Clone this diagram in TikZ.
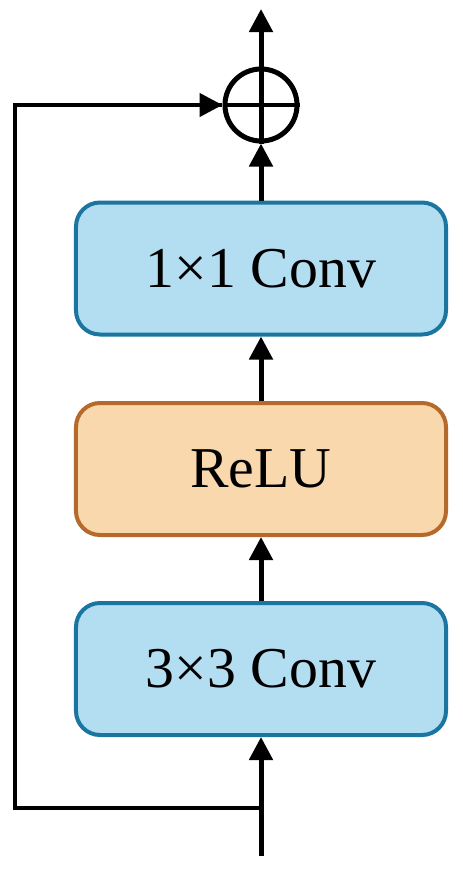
\documentclass[tikz,border=0pt]{standalone}
\usepackage{fontspec}
\setmainfont{Liberation Serif}
\usetikzlibrary{arrows.meta}
\definecolor{convfill}{RGB}{179,221,240}
\definecolor{convdraw}{RGB}{26,117,160}
\definecolor{relufill}{RGB}{248,216,172}
\definecolor{reludraw}{RGB}{181,105,43}
\begin{document}
\begin{tikzpicture}[x=1bp,y=-1bp,
  blk/.style={rounded corners=24bp, line width=4bp, minimum width=370bp, minimum height=132bp,
    inner sep=0pt, font=\fontsize{58}{60}\selectfont},
  convbox/.style={blk, draw=convdraw, fill=convfill},
  relubox/.style={blk, draw=reludraw, fill=relufill},
  conn/.style={line width=5bp, -{Triangle[length=23bp,width=23bp]}},
  skip/.style={line width=4.5bp}]
\useasboundingbox (0,0) rectangle (463,872);
\node[convbox] (c1) at (261,268.5) {1×1 Conv};
\node[relubox] (relu) at (261,469) {ReLU};
\node[convbox] (c3) at (261,669) {3×3 Conv};
\node[circle, draw, line width=5bp, minimum size=72bp, inner sep=0pt] (add) at (261,105) {};
\coordinate (in) at (261,856);
\coordinate (split) at (261,808);
\coordinate (out) at (261,9);
\coordinate (bl) at (15,808);
\coordinate (tl) at (15,105);
% plus sign inside the circle
\draw[line width=5bp] (add.north) -- (add.south);
\draw[line width=4.5bp] (add.west) -- (add.east);
% main path
\draw[conn] (in) -- (c3.south);
\draw[conn] (c3.north) -- (relu.south);
\draw[conn] (relu.north) -- (c1.south);
\draw[conn] (c1.north) -- (add.south);
\draw[conn] (add.north) -- (out);
% skip connection
\draw[skip, line join=miter] (split) -- (bl) -- (tl) -- ([xshift=-1bp]add.west);
\draw[skip, -{Triangle[length=23bp,width=23bp]}] ([xshift=-30bp]add.west) -- (add.west);
\end{tikzpicture}
\end{document}
